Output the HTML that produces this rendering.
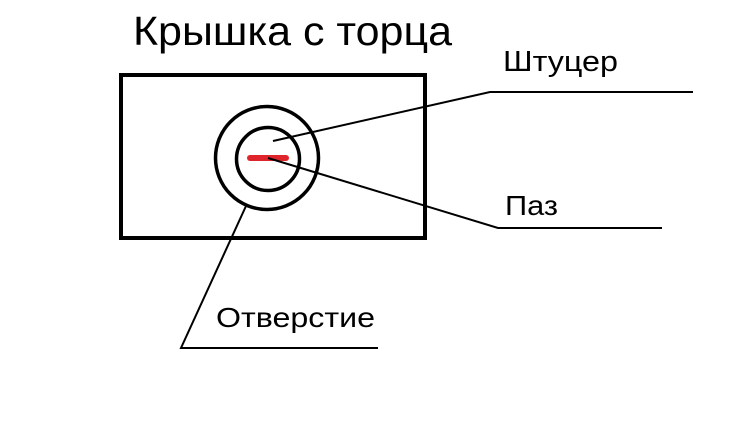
<!DOCTYPE html>
<html><head><meta charset="utf-8"><style>body{margin:0;background:#fff}svg{display:block}</style></head>
<body>
<svg width="748" height="440" viewBox="0 0 748 440" xmlns="http://www.w3.org/2000/svg" font-family="Liberation Sans, sans-serif">
<rect width="748" height="440" fill="#fff"/>
<text x="133" y="45" font-size="41" textLength="319" lengthAdjust="spacingAndGlyphs">Крышка с торца</text>
<rect x="121" y="75" width="304" height="163" fill="none" stroke="#000" stroke-width="4"/>
<circle cx="267" cy="158" r="51.5" fill="none" stroke="#000" stroke-width="3.5"/>
<circle cx="268" cy="159" r="31.5" fill="none" stroke="#000" stroke-width="3.5"/>
<line x1="250" y1="158" x2="286" y2="158" stroke="#e0242b" stroke-width="6" stroke-linecap="round"/>
<polyline points="273,141 490,92 693,92" fill="none" stroke="#000" stroke-width="2"/>
<polyline points="268,158 498,228 662,228" fill="none" stroke="#000" stroke-width="2"/>
<polyline points="246,206 181,348 378,348" fill="none" stroke="#000" stroke-width="2"/>
<text x="503" y="71" font-size="29" textLength="115" lengthAdjust="spacingAndGlyphs">Штуцер</text>
<text x="505" y="215" font-size="28" textLength="53" lengthAdjust="spacingAndGlyphs">Паз</text>
<text x="216" y="327" font-size="28" textLength="159" lengthAdjust="spacingAndGlyphs">Отверстие</text>
</svg>
</body></html>
